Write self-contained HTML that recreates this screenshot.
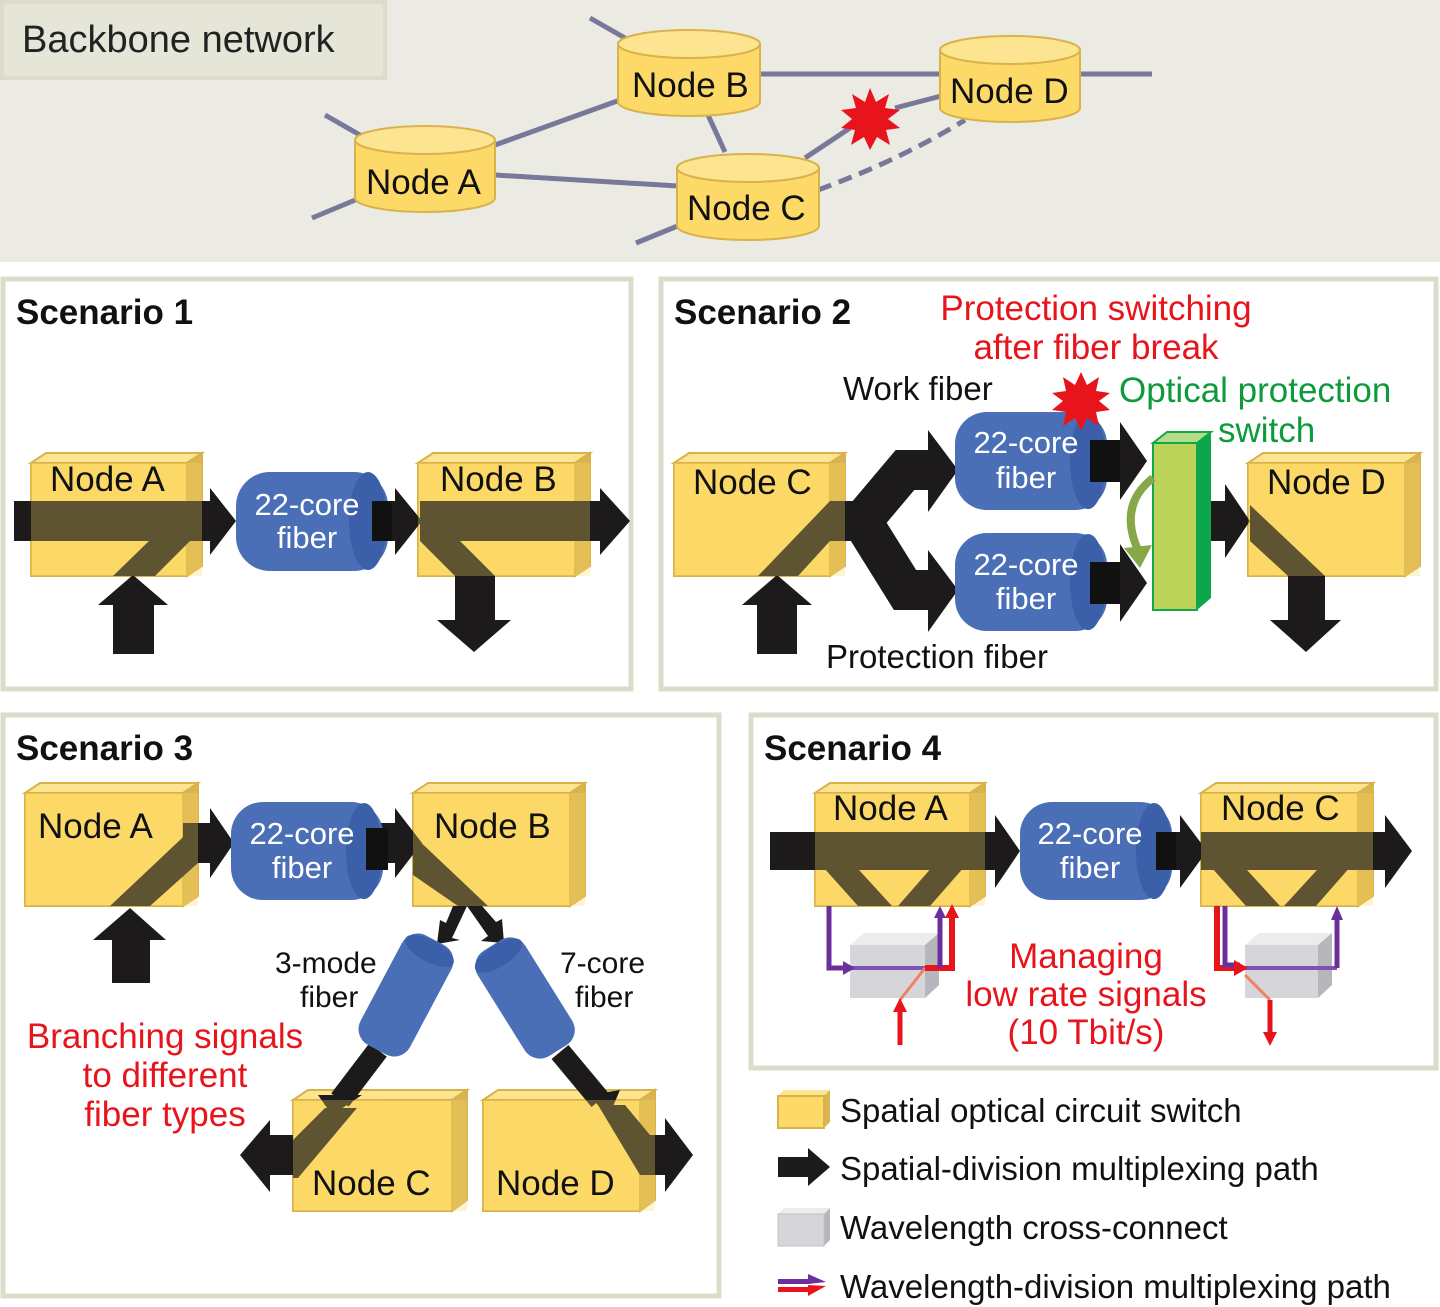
<!DOCTYPE html>
<html><head><meta charset="utf-8"><style>
html,body{margin:0;padding:0;background:#fff}
svg{display:block}
text{font-family:"Liberation Sans",sans-serif}
.nl{font-size:35px;fill:#111}
.fl{font-size:31px;fill:#fff;text-anchor:middle}
.tl{font-size:33px;fill:#111}
.rd{font-size:35px;fill:#e8141b}
.sc{font-size:35px;font-weight:bold;fill:#111}
</style></head><body>
<svg width="1440" height="1307" viewBox="0 0 1440 1307" xmlns="http://www.w3.org/2000/svg">
<!-- top band -->
<rect x="0" y="0" width="1440" height="262" fill="#ecebe3"/>
<rect x="0" y="0" width="387" height="80" fill="#dcdccb"/>
<rect x="4" y="4" width="379" height="72" fill="#e6e6d8"/>
<text x="22" y="52" style="font-size:38px;fill:#222">Backbone network</text>
<g stroke="#77789a" stroke-width="5" fill="none">
<line x1="325" y1="115" x2="360" y2="135"/><line x1="312" y1="218" x2="360" y2="198"/>
<line x1="495" y1="145" x2="620" y2="100"/><line x1="495" y1="175" x2="678" y2="186"/>
<line x1="590" y1="18" x2="625" y2="38"/><line x1="760" y1="74" x2="940" y2="74"/>
<line x1="708" y1="115" x2="725" y2="152"/><line x1="1080" y1="74" x2="1152" y2="74"/>
<line x1="636" y1="243" x2="680" y2="225"/><line x1="805" y1="158" x2="850" y2="128"/>
<line x1="895" y1="108" x2="945" y2="95"/>
<path d="M818 190 Q900 160 965 120" stroke-dasharray="14 8"/>
</g>
<g stroke="#d8b24a" stroke-width="2" fill="#fdd967">
<path d="M355 140 v58 a70 14 0 0 0 140 0 v-58"/><ellipse cx="425" cy="140" rx="70" ry="14" fill="#fde490"/>
<path d="M618 44 v58 a71 14 0 0 0 142 0 v-58"/><ellipse cx="689" cy="44" rx="71" ry="14" fill="#fde490"/>
<path d="M677 168 v58 a71 14 0 0 0 142 0 v-58"/><ellipse cx="748" cy="168" rx="71" ry="14" fill="#fde490"/>
<path d="M940 50 v58 a70 14 0 0 0 140 0 v-58"/><ellipse cx="1010" cy="50" rx="70" ry="14" fill="#fde490"/>
</g>
<text x="366" y="194" class="nl">Node A</text>
<text x="632" y="97" class="nl">Node B</text>
<text x="687" y="220" class="nl">Node C</text>
<text x="950" y="103" class="nl">Node D</text>
<polygon fill="#e8141b" points="870,88 876,102 889,94 885,108 900,110 888,119 900,128 886,130 890,145 877,137 870,150 864,137 851,145 855,130 841,128 852,119 841,110 856,108 852,94 865,102"/>

<!-- panels -->
<g fill="#fff" stroke="#dcdccb" stroke-width="5">
<rect x="3" y="279" width="628" height="410"/>
<rect x="661" y="279" width="775" height="410"/>
<rect x="3" y="715" width="716" height="581"/>
<rect x="751" y="715" width="685" height="353"/>
</g>
<text x="16" y="324" class="sc">Scenario 1</text>
<text x="674" y="324" class="sc">Scenario 2</text>
<text x="16" y="760" class="sc">Scenario 3</text>
<text x="764" y="760" class="sc">Scenario 4</text>

<!-- ===== Scenario 1 ===== -->
<g stroke="#d8b24a" stroke-width="2">
<polygon fill="#fde490" points="31,463 46,453 202,453 187,463"/><polygon fill="#d9b450" points="187,463 202,453 202,566 187,576"/><rect x="31" y="463" width="156" height="113" fill="#fdd967"/>
<polygon fill="#fde490" points="418,463 433,453 590,453 575,463"/><polygon fill="#d9b450" points="575,463 590,453 590,566 575,576"/><rect x="418" y="463" width="157" height="113" fill="#fdd967"/>
</g>
<g fill="#1c1a1a">
<polygon points="14,501 210,501 210,488 236,521 210,555 210,541 14,541"/>
<polygon points="113,576 155,576 190,541 190,501"/>
<polygon points="113,654 154,654 154,605 168,605 133,575 98,605 113,605"/>
<polygon points="372,501 395,501 395,488 422,521 395,555 395,541 372,541"/>
<polygon points="420,501 600,501 600,488 630,521 600,555 600,541 420,541"/>
<polygon points="420,501 495,576 455,576 420,541"/>
<polygon points="455,576 495,576 495,620 511,620 474,652 437,620 455,620"/>
</g>
<g fill="#fdd967" opacity="0.3"><rect x="31" y="463" width="171" height="113"/><rect x="418" y="463" width="172" height="113"/></g>
<text x="50" y="491" class="nl">Node A</text><text x="440" y="491" class="nl">Node B</text>
<rect x="236" y="472" width="152" height="99" rx="34" fill="#4a6fb7"/><ellipse cx="368" cy="521" rx="19" ry="49" fill="#3b5fa8"/>
<rect x="372" y="501" width="20" height="40" fill="#111"/>
<text x="307" y="515" class="fl">22-core</text><text x="307" y="548" class="fl">fiber</text>

<!-- ===== Scenario 2 ===== -->
<g stroke="#d8b24a" stroke-width="2">
<polygon fill="#fde490" points="674,463 689,453 845,453 830,463"/><polygon fill="#d9b450" points="830,463 845,453 845,566 830,576"/><rect x="674" y="463" width="156" height="113" fill="#fdd967"/>
<polygon fill="#fde490" points="1248,463 1263,453 1420,453 1405,463"/><polygon fill="#d9b450" points="1405,463 1420,453 1420,566 1405,576"/><rect x="1248" y="463" width="157" height="113" fill="#fdd967"/>
</g>
<g fill="#1c1a1a">
<polygon points="758,576 798,576 830,541 830,501"/>
<polygon points="757,654 797,654 797,605 812,605 777,575 742,605 757,605"/>
<polyline points="830,521 862,521 905,470 930,470" fill="none" stroke="#1c1a1a" stroke-width="40" stroke-linejoin="miter"/>
<polyline points="830,521 862,521 905,590 930,590" fill="none" stroke="#1c1a1a" stroke-width="40" stroke-linejoin="miter"/>
<polygon points="928,430 958,470 928,512"/>
<polygon points="928,550 958,590 928,632"/>
<polygon points="1090,440 1120,440 1120,422 1147,461 1120,500 1120,482 1090,482"/>
<polygon points="1090,562 1120,562 1120,544 1147,583 1120,622 1120,604 1090,604"/>
<polygon points="1197,501 1225,501 1225,484 1250,521 1225,558 1225,541 1197,541"/>
<polygon points="1250,505 1325,576 1288,576 1250,541"/>
<polygon points="1288,576 1325,576 1325,620 1341,620 1306,652 1270,620 1288,620"/>
</g>
<g fill="#fdd967" opacity="0.3"><rect x="674" y="463" width="171" height="113"/><rect x="1248" y="463" width="172" height="113"/></g>
<text x="693" y="494" class="nl">Node C</text><text x="1267" y="494" class="nl">Node D</text>
<rect x="955" y="412" width="152" height="98" rx="32" fill="#4a6fb7"/><ellipse cx="1088" cy="461" rx="18" ry="48" fill="#3b5fa8"/>
<rect x="955" y="533" width="152" height="98" rx="32" fill="#4a6fb7"/><ellipse cx="1088" cy="582" rx="18" ry="48" fill="#3b5fa8"/>
<rect x="1090" y="440" width="30" height="42" fill="#111"/><rect x="1090" y="562" width="30" height="42" fill="#111"/>
<text x="1026" y="453" class="fl">22-core</text><text x="1026" y="488" class="fl">fiber</text>
<text x="1026" y="575" class="fl">22-core</text><text x="1026" y="609" class="fl">fiber</text>
<polygon fill="#b6dc8a" stroke="#10a84a" stroke-width="2" points="1153,443 1167,432 1211,432 1197,443"/>
<polygon fill="#0aa84a" points="1197,443 1211,432 1211,598 1197,610"/>
<rect x="1153" y="443" width="44" height="167" fill="#bcd35a" stroke="#10a84a" stroke-width="2"/>
<path d="M1153 478 Q1118 505 1138 550" fill="none" stroke="#86a848" stroke-width="8"/>
<polygon fill="#86a848" points="1124,548 1152,545 1140,568"/>
<polygon fill="#e8141b" points="1081,372 1087,385 1099,377 1096,391 1110,393 1099,401 1110,410 1096,412 1099,426 1087,418 1081,431 1075,418 1063,426 1066,412 1052,410 1063,401 1052,393 1066,391 1063,377 1075,385"/>
<text x="843" y="400" class="tl">Work fiber</text>
<text x="826" y="668" class="tl">Protection fiber</text>
<text x="1096" y="320" class="rd" text-anchor="middle">Protection switching</text>
<text x="1096" y="359" class="rd" text-anchor="middle">after fiber break</text>
<text x="1119" y="402" style="font-size:35px;fill:#0c9a3a">Optical protection</text>
<text x="1218" y="442" style="font-size:35px;fill:#0c9a3a">switch</text>

<!-- ===== Scenario 3 ===== -->
<g stroke="#d8b24a" stroke-width="2">
<polygon fill="#fde490" points="25,793 40,783 198,783 183,793"/><polygon fill="#d9b450" points="183,793 198,783 198,896 183,906"/><rect x="25" y="793" width="158" height="113" fill="#fdd967"/>
<polygon fill="#fde490" points="413,793 428,783 585,783 570,793"/><polygon fill="#d9b450" points="570,793 585,783 585,896 570,906"/><rect x="413" y="793" width="157" height="113" fill="#fdd967"/>
<polygon fill="#fde490" points="293,1100 308,1090 467,1090 452,1100"/><polygon fill="#d9b450" points="452,1100 467,1090 467,1200 452,1211"/><rect x="293" y="1100" width="159" height="111" fill="#fdd967"/>
<polygon fill="#fde490" points="483,1100 498,1090 655,1090 640,1100"/><polygon fill="#d9b450" points="640,1100 655,1090 655,1200 640,1211"/><rect x="483" y="1100" width="157" height="111" fill="#fdd967"/>
</g>
<g fill="#1c1a1a">
<polygon points="110,906 150,906 198,863 198,823"/>
<polygon points="112,983 150,983 150,940 166,940 130,908 93,940 112,940"/>
<polygon points="183,823 210,823 210,808 234,843 210,878 210,863 183,863"/>
<polygon points="368,823 395,823 395,808 422,843 395,878 395,863 368,863"/>
<polygon points="413,835 413,875 458,906 488,906"/>
<polygon points="453,906 467,906 452,938 460,940 437,944 440,920 446,923"/>
<polygon points="467,906 482,906 496,922 502,919 504,943 481,941 488,936"/>
<line x1="378" y1="1050" x2="340" y2="1100" stroke="#1c1a1a" stroke-width="22"/>
<line x1="560" y1="1052" x2="600" y2="1100" stroke="#1c1a1a" stroke-width="22"/>
<polygon points="318,1095 362,1095 332,1115"/>
<polygon points="590,1095 620,1090 608,1118"/>
<polygon points="325,1108 357,1108 298,1178 293,1178 293,1140"/>
<polygon points="293,1135 270,1135 270,1120 240,1155 270,1192 270,1175 293,1175"/>
<polygon points="598,1105 625,1105 650,1135 650,1175 640,1175"/>
<polygon points="640,1135 665,1135 665,1118 693,1155 665,1192 665,1175 640,1175"/>
</g>
<g fill="#fdd967" opacity="0.3"><rect x="25" y="793" width="173" height="113"/><rect x="413" y="793" width="172" height="113"/><rect x="293" y="1100" width="174" height="111"/><rect x="483" y="1100" width="172" height="111"/></g>
<text x="38" y="838" class="nl">Node A</text><text x="434" y="838" class="nl">Node B</text>
<text x="312" y="1195" class="nl">Node C</text><text x="496" y="1195" class="nl">Node D</text>
<rect x="231" y="802" width="152" height="98" rx="32" fill="#4a6fb7"/><ellipse cx="364" cy="851" rx="18" ry="48" fill="#3b5fa8"/>
<rect x="366" y="828" width="22" height="42" fill="#111"/>
<text x="302" y="844" class="fl">22-core</text><text x="302" y="878" class="fl">fiber</text>
<g transform="translate(406,995) rotate(-62)"><rect x="-62" y="-28" width="124" height="56" rx="18" fill="#4a6fb7"/><ellipse cx="50" cy="0" rx="11" ry="27" fill="#3b5fa8"/></g>
<g transform="translate(525,998) rotate(58)"><rect x="-62" y="-28" width="124" height="56" rx="18" fill="#4a6fb7"/><ellipse cx="-50" cy="0" rx="11" ry="27" fill="#3b5fa8"/></g>
<text x="275" y="973" class="tl" style="font-size:30px">3-mode</text><text x="300" y="1007" class="tl" style="font-size:30px">fiber</text>
<text x="560" y="973" class="tl" style="font-size:30px">7-core</text><text x="575" y="1007" class="tl" style="font-size:30px">fiber</text>
<text x="165" y="1048" class="rd" text-anchor="middle">Branching signals</text>
<text x="165" y="1087" class="rd" text-anchor="middle">to different</text>
<text x="165" y="1126" class="rd" text-anchor="middle">fiber types</text>

<!-- ===== Scenario 4 ===== -->
<g stroke="#d8b24a" stroke-width="2">
<polygon fill="#fde490" points="815,793 830,783 985,783 970,793"/><polygon fill="#d9b450" points="970,793 985,783 985,896 970,906"/><rect x="815" y="793" width="155" height="113" fill="#fdd967"/>
<polygon fill="#fde490" points="1201,793 1216,783 1373,783 1358,793"/><polygon fill="#d9b450" points="1358,793 1373,783 1373,896 1358,906"/><rect x="1201" y="793" width="157" height="113" fill="#fdd967"/>
</g>
<g fill="#1c1a1a">
<polygon points="770,832 995,832 995,815 1020,851 995,888 995,870 770,870"/>
<polygon points="1155,832 1180,832 1180,815 1207,851 1180,888 1180,870 1155,870"/>
<polygon points="1201,832 1385,832 1385,815 1412,851 1385,888 1385,870 1201,870"/>
<polygon points="815,858 848,858 892,906 858,906"/>
<polygon points="940,858 972,858 930,906 898,906"/>
<polygon points="1203,858 1236,858 1280,906 1246,906"/>
<polygon points="1328,858 1358,858 1316,906 1284,906"/>
</g>
<g fill="#fdd967" opacity="0.3"><rect x="815" y="793" width="170" height="113"/><rect x="1201" y="793" width="172" height="113"/></g>
<text x="833" y="820" class="nl">Node A</text><text x="1221" y="820" class="nl">Node C</text>
<rect x="1020" y="802" width="152" height="98" rx="32" fill="#4a6fb7"/><ellipse cx="1154" cy="851" rx="18" ry="48" fill="#3b5fa8"/>
<rect x="1156" y="832" width="20" height="38" fill="#111"/>
<text x="1090" y="844" class="fl">22-core</text><text x="1090" y="878" class="fl">fiber</text>
<!-- WXC -->
<g>
<polygon fill="#ececee" points="850,945 864,933 939,933 925,945"/><polygon fill="#b6b6bc" points="925,945 939,933 939,985 925,998"/><rect x="850" y="945" width="75" height="53" fill="#d6d6da"/>
<polygon fill="#ececee" points="1245,945 1259,933 1332,933 1318,945"/><polygon fill="#b6b6bc" points="1318,945 1332,933 1332,985 1318,998"/><rect x="1245" y="945" width="73" height="53" fill="#d6d6da"/>
</g>
<g fill="none" stroke-width="5">
<polyline points="829,906 829,968 845,968" stroke="#6a2f9a"/>
<line x1="845" y1="968" x2="935" y2="968" stroke="#7e52b4" stroke-width="4"/>
<line x1="900" y1="1000" x2="925" y2="968" stroke="#f08060" stroke-width="3"/>
<polyline points="925,968 952,968 952,915" stroke="#e8141b" stroke-width="6"/>
<polyline points="940,968 940,915" stroke="#6a2f9a"/>
<line x1="900" y1="1045" x2="900" y2="1010" stroke="#e8141b" stroke-width="5"/>
<polyline points="1217,906 1217,968 1236,968" stroke="#e8141b" stroke-width="6"/>
<polyline points="1225,906 1225,965 1240,965" stroke="#6a2f9a"/>
<line x1="1240" y1="968" x2="1337" y2="968" stroke="#7e52b4" stroke-width="4"/>
<polyline points="1337,968 1337,918" stroke="#6a2f9a"/>
<line x1="1245" y1="975" x2="1270" y2="1000" stroke="#f08060" stroke-width="3"/>
<line x1="1270" y1="1000" x2="1270" y2="1035" stroke="#e8141b" stroke-width="5"/>
</g>
<g>
<polygon fill="#6a2f9a" points="843,961 855,968 843,975"/>
<polygon fill="#e8141b" points="945,918 952,904 959,918"/>
<polygon fill="#6a2f9a" points="934,918 940,906 946,918"/>
<polygon fill="#e8141b" points="893,1012 900,998 907,1012"/>
<polygon fill="#e8141b" points="1234,960 1248,968 1234,976"/>
<polygon fill="#6a2f9a" points="1331,920 1337,906 1343,920"/>
<polygon fill="#e8141b" points="1263,1032 1270,1046 1277,1032"/>
</g>
<text x="1086" y="968" class="rd" text-anchor="middle">Managing</text>
<text x="1086" y="1006" class="rd" text-anchor="middle">low rate signals</text>
<text x="1086" y="1044" class="rd" text-anchor="middle">(10 Tbit/s)</text>

<!-- Legend -->
<polygon fill="#fde490" points="778,1096 784,1090 830,1090 824,1096"/><polygon fill="#d9b450" points="824,1096 830,1090 830,1122 824,1128"/>
<rect x="778" y="1096" width="46" height="32" fill="#fdd967" stroke="#d8b24a" stroke-width="2"/>
<text x="840" y="1122" class="tl" style="font-size:33px">Spatial optical circuit switch</text>
<polygon fill="#1c1a1a" points="778,1157 808,1157 808,1148 830,1167 808,1186 808,1177 778,1177"/>
<text x="840" y="1180" class="tl" style="font-size:33px">Spatial-division multiplexing path</text>
<polygon fill="#ececee" points="778,1214 784,1208 830,1208 824,1214"/><polygon fill="#b6b6bc" points="824,1214 830,1208 830,1240 824,1246"/>
<rect x="778" y="1214" width="46" height="32" fill="#d6d6da" stroke="#c0c0c6" stroke-width="1"/>
<text x="840" y="1239" class="tl" style="font-size:33px">Wavelength cross-connect</text>
<rect x="778" y="1279" width="32" height="5" fill="#6a2f9a"/><rect x="778" y="1287" width="32" height="5" fill="#e8141b"/>
<polygon fill="#6a2f9a" points="808,1274 826,1282 808,1284"/><polygon fill="#e8141b" points="808,1285 826,1286 808,1296"/>
<text x="840" y="1298" class="tl" style="font-size:33px">Wavelength-division multiplexing path</text>
</svg>
</body></html>
